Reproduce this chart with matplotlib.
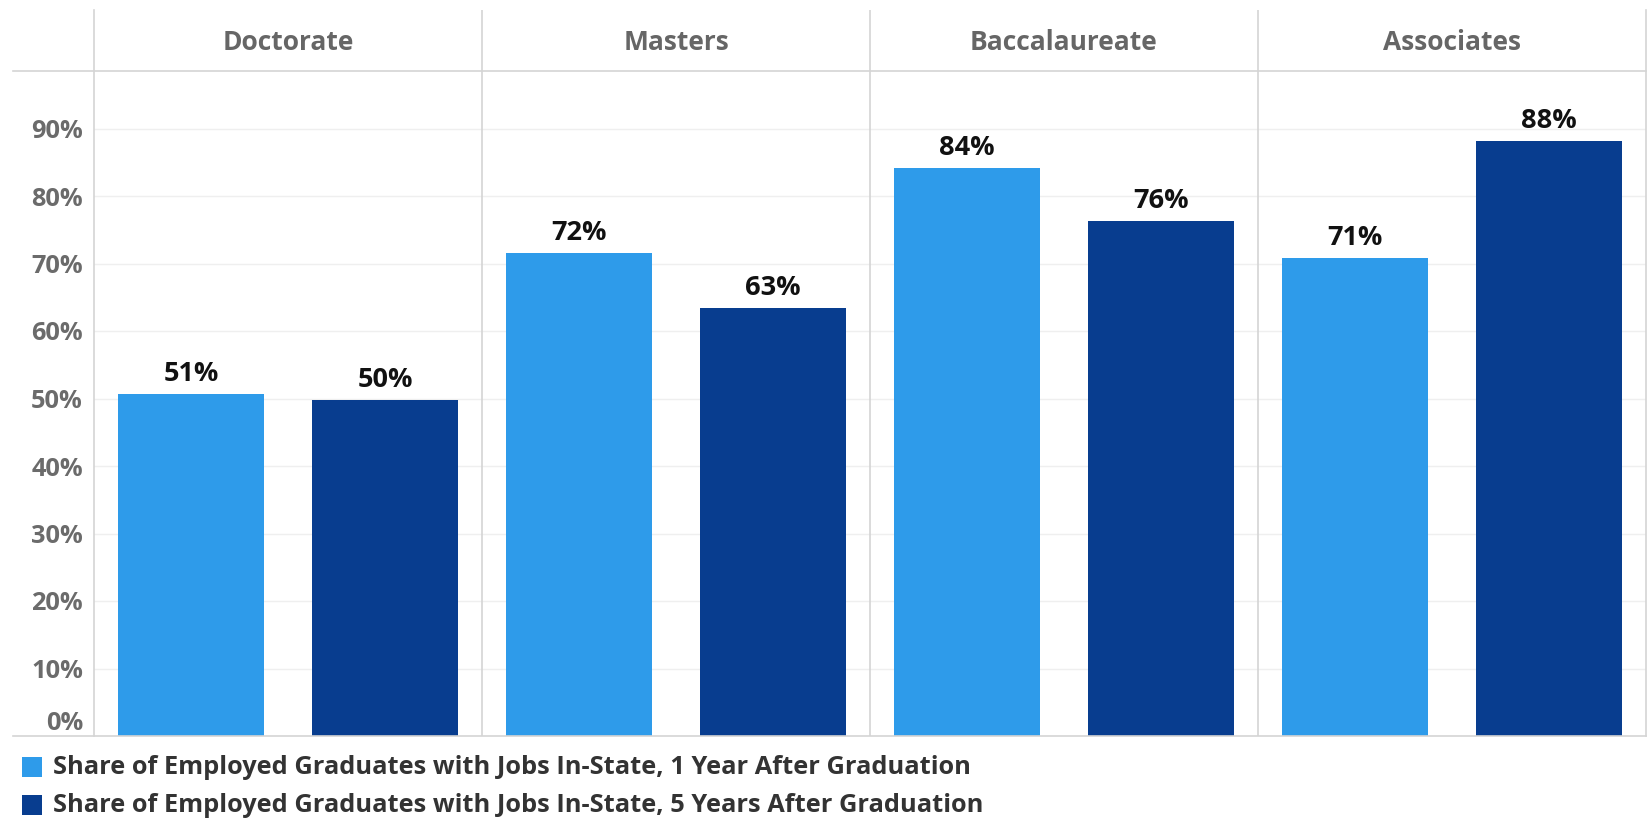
import matplotlib
matplotlib.use("Agg")
import matplotlib.pyplot as plt
from matplotlib.patches import Rectangle
from matplotlib.lines import Line2D

plt.rcParams['font.family'] = ['Open Sans', 'DejaVu Sans']

degrees = ["Doctorate", "Masters", "Baccalaureate", "Associates"]
one_year = [50.7, 71.6, 84.2, 70.8]
five_year = [49.8, 63.4, 76.3, 88.2]
series_names = [
    "Share of Employed Graduates with Jobs In-State, 1 Year After Graduation",
    "Share of Employed Graduates with Jobs In-State, 5 Years After Graduation",
]
y_ticks = [0, 10, 20, 30, 40, 50, 60, 70, 80, 90]

light = "#2e9bea"
dark = "#083d8f"
line_c = "#d4d4d4"

W, H = 1650, 818
fig = plt.figure(figsize=(W / 100, H / 100), dpi=100)


def fx(px):
    return px / W


def fy(py):
    return 1 - py / H


# main axes spans from header top (y=10) down to baseline (y=736)
left, right, top, base = 94, 1646, 10, 736
ax = fig.add_axes([fx(left), fy(base), fx(right - left), fy(top) - fy(base)])
px_per_pct = 6.75
ymax = (base - top) / px_per_pct
ax.set_xlim(0, 4)
ax.set_ylim(0, ymax)

x = list(range(len(degrees)))
ax.bar([i + 0.25 for i in x], one_year, width=0.375, color=light, zorder=3)
ax.bar([i + 0.75 for i in x], five_year, width=0.375, color=dark, zorder=3)

for i in x:
    for xpos, v in ((i + 0.25, one_year[i]), (i + 0.75, five_year[i])):
        ax.annotate(f"{round(v)}%", (xpos, v), xytext=(0, 5), textcoords="offset points",
                    ha="center", va="bottom", fontsize=19.5, fontweight="bold", color="#111111")

# gridlines
for t in y_ticks[1:]:
    ax.axhline(t, color="#efefef", lw=1, zorder=1)

# pane dividers
for i in range(1, 4):
    ax.axvline(i, color=line_c, lw=1.2, zorder=2)

# header
for i, d in enumerate(degrees):
    ax.text(i + 0.5, (base - 43) / px_per_pct, d, ha="center", va="center",
            fontsize=19, fontweight="bold", color="#666666")

for s in ["top", "bottom"]:
    ax.spines[s].set_visible(False)
for s in ["left", "right"]:
    ax.spines[s].set_color(line_c)
    ax.spines[s].set_linewidth(1.2)

ax.set_xticks([])
ax.set_yticks(y_ticks)
ax.set_yticklabels([f"{t}%" for t in y_ticks])
ax.tick_params(axis="y", length=0, pad=8, labelsize=18.3, labelcolor="#6b6b6b")
for lab in ax.get_yticklabels():
    lab.set_fontweight("bold")
ax.get_yticklabels()[0].set_verticalalignment("bottom")

# header line and baseline reaching to the left edge
for py in (71, base):
    fig.add_artist(Line2D([fx(13), fx(right)], [fy(py), fy(py)], color=line_c, lw=1.2))

# legend
for name, color, cy in ((series_names[0], light, 767), (series_names[1], dark, 805)):
    fig.add_artist(Rectangle((fx(22), fy(cy + 10)), fx(20), fy(cy - 10) - fy(cy + 10),
                             facecolor=color, edgecolor="none"))
    fig.text(fx(53), fy(cy), name, ha="left", va="center", fontsize=18.3,
             fontweight="bold", color="#333333")

fig.savefig("out.png", dpi=100)
